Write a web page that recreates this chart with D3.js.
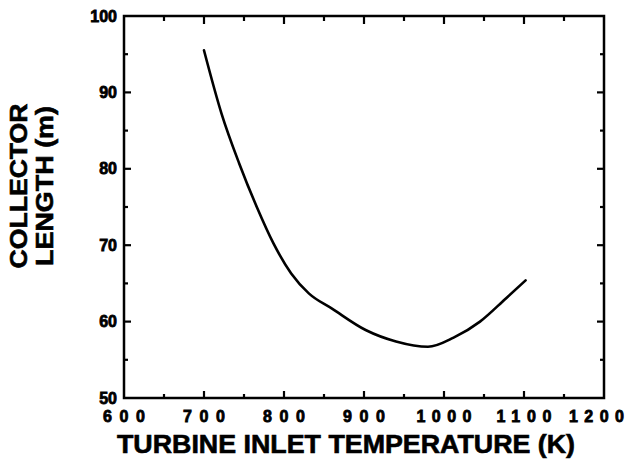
<!DOCTYPE html>
<html>
<head>
<meta charset="utf-8">
<script src="https://cdn.jsdelivr.net/npm/d3@7"></script>
<style>
  html, body { margin: 0; padding: 0; background: #fff; }
  svg { display: block; }
  text { font-family: "Liberation Sans", Arial, sans-serif; font-weight: bold; fill: #000; }
  .tk { stroke: #000; stroke-width: 0.8px; }
  .ttl { stroke: #000; stroke-width: 0.6px; }
</style>
</head>
<body>
<svg id="chart" width="627" height="461"></svg>
<script>
// ---- data ----
const temperature = [700, 722, 744, 766, 787, 809, 831, 860, 902, 940, 980, 1012, 1045, 1077, 1102];
const collectorLength = [95.5, 87.2, 80.7, 75.0, 70.2, 66.3, 63.7, 61.7, 58.9, 57.4, 56.7, 57.9, 60.0, 63.0, 65.4];
const xTickLabels = [600, 700, 800, 900, 1000, 1100, 1200];
const xMinorTicks = [650, 750, 850, 950, 1050, 1150];
const yTickLabels = [50, 60, 70, 80, 90, 100];
const yMinorTicks = [55, 65, 75, 85, 95];
const xTitle = "TURBINE INLET TEMPERATURE (K)";
const yTitleLines = ["COLLECTOR", "LENGTH (m)"];

// ---- layout ----
const pLeft = 124, pRight = 604, pTop = 16, pBottom = 398;
const W = 627;
const svg = d3.select("#chart");
const x = d3.scaleLinear().domain([600, 1200]).range([pLeft, pRight]);
const y = d3.scaleLinear().domain([50, 100]).range([pBottom, pTop]);

const g = svg.append("g");

// frame
g.append("rect")
  .attr("x", pLeft).attr("y", pTop)
  .attr("width", pRight - pLeft).attr("height", pBottom - pTop)
  .attr("fill", "none").attr("stroke", "#000").attr("stroke-width", 2.5);

const majorLen = 7, minorLen = 4;
function tickLines(vals, len, orient) {
  vals.forEach(v => {
    if (orient === "bottom") {
      g.append("line").attr("x1", x(v)).attr("x2", x(v)).attr("y1", pBottom).attr("y2", pBottom - len);
    } else if (orient === "top") {
      g.append("line").attr("x1", x(v)).attr("x2", x(v)).attr("y1", pTop).attr("y2", pTop + len);
    } else if (orient === "left") {
      g.append("line").attr("y1", y(v)).attr("y2", y(v)).attr("x1", pLeft).attr("x2", pLeft + len);
    } else {
      g.append("line").attr("y1", y(v)).attr("y2", y(v)).attr("x1", pRight).attr("x2", pRight - len);
    }
  });
}
const inner = xTickLabels.filter(v => v > 600 && v < 1200);
const innerY = yTickLabels.filter(v => v > 50 && v < 100);
tickLines(inner, majorLen, "bottom");
tickLines(inner, majorLen + 1, "top");
tickLines(xMinorTicks, minorLen, "bottom");
tickLines(xMinorTicks, minorLen + 1, "top");
tickLines(innerY, majorLen, "left");
tickLines(innerY, majorLen, "right");
tickLines(yMinorTicks, minorLen, "left");
tickLines(yMinorTicks, minorLen, "right");
g.selectAll("line").attr("stroke", "#000").attr("stroke-width", 2.2);

// x tick labels (spread digits)
g.selectAll(".xl").data(xTickLabels).enter().append("text")
  .attr("class", "xl tk")
  .each(function (d) {
    const w = String(d).length > 3 ? 55 : 42;
    const cx = Math.min(x(d), W - 3 - w / 2);
    d3.select(this)
      .attr("x", cx - w / 2)
      .attr("textLength", w)
      .attr("lengthAdjust", "spacing");
  })
  .attr("y", 422)
  .style("font-size", "16px")
  .text(d => d);

// y tick labels
g.selectAll(".yl").data(yTickLabels).enter().append("text")
  .attr("class", "yl tk")
  .attr("x", 117)
  .attr("y", d => y(d) + 5.5)
  .attr("text-anchor", "end")
  .style("font-size", "16px")
  .text(d => d);

// x title
g.append("text")
  .attr("class", "ttl")
  .attr("x", 117).attr("y", 453)
  .attr("textLength", 458).attr("lengthAdjust", "spacingAndGlyphs")
  .style("font-size", "25px")
  .text(xTitle);

// y title (two rotated lines)
const yTitleBase = [27, 53];
const yTitleLen = [165, 160];
yTitleLines.forEach((t, i) => {
  g.append("text")
    .attr("class", "ttl")
    .attr("transform", `translate(${yTitleBase[i]},${186}) rotate(-90)`)
    .attr("text-anchor", "middle")
    .attr("textLength", yTitleLen[i]).attr("lengthAdjust", "spacingAndGlyphs")
    .style("font-size", "23px")
    .text(t);
});

// curve
const pts = temperature.map((t, i) => [t, collectorLength[i]]);
g.append("path")
  .datum(pts)
  .attr("fill", "none")
  .attr("stroke", "#000")
  .attr("stroke-width", 2.6)
  .attr("stroke-linecap", "round")
  .attr("d", d3.line().x(d => x(d[0])).y(d => y(d[1])).curve(d3.curveMonotoneX));
</script>
</body>
</html>
